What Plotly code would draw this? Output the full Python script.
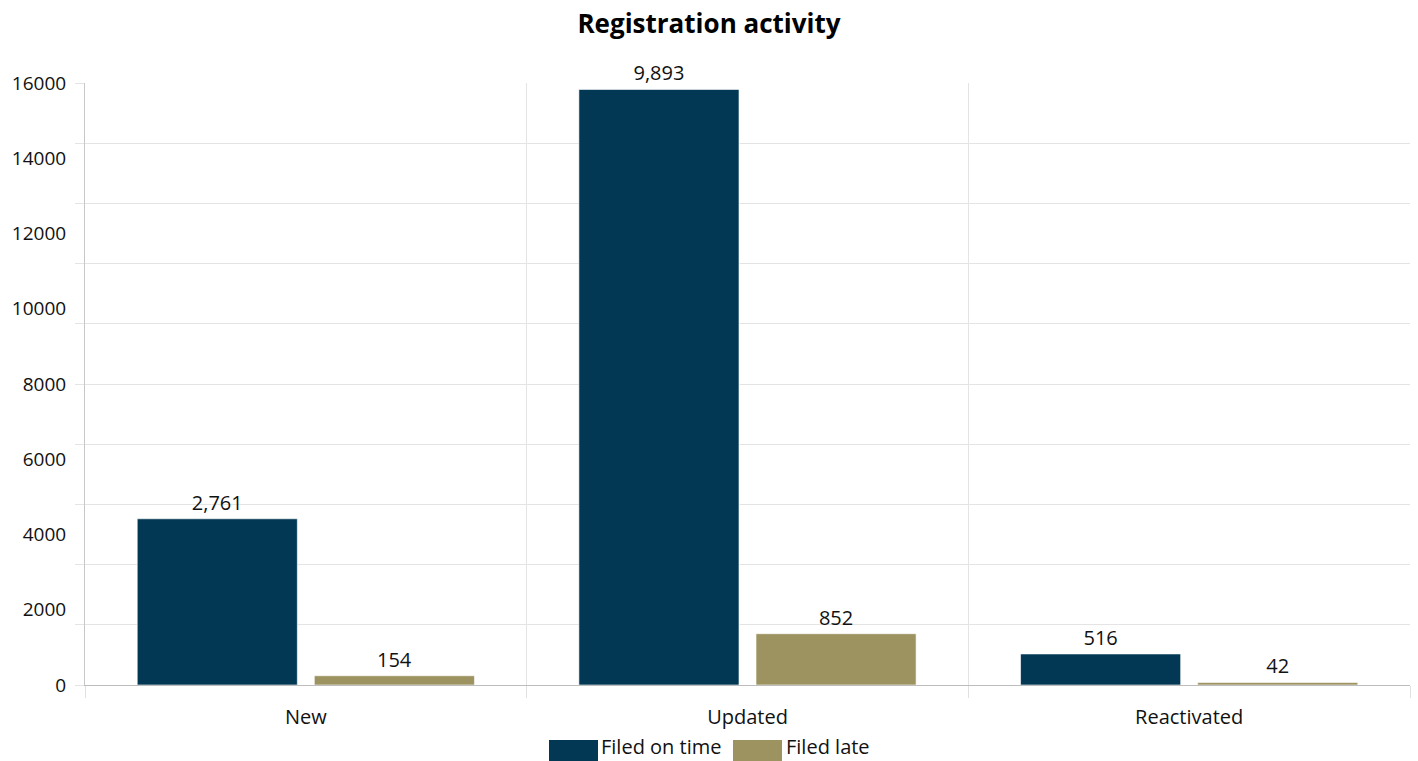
import plotly.graph_objects as go

categories = ["New", "Updated", "Reactivated"]
filed_on_time = [2761, 9893, 516]
filed_late = [154, 852, 42]
series_names = ["Filed on time", "Filed late"]
series_colors = ["#023854", "#9C9361"]
axis_tick_labels = [0, 2000, 4000, 6000, 8000, 10000, 12000, 14000, 16000]

FONT = "Open Sans"
fig = go.Figure()
for name, vals, col in zip(series_names, [filed_on_time, filed_late], series_colors):
    fig.add_trace(go.Bar(
        x=categories, y=vals, name=name,
        marker=dict(color=col, line=dict(color="rgba(255,255,255,0.6)", width=1)),
        texttemplate="%{y:,}", textposition="outside", cliponaxis=False,
        textfont=dict(family=FONT, size=20, color="#111"),
        showlegend=False,
    ))

fig.update_layout(
    width=1418, height=761,
    margin=dict(l=85, r=8, t=83, b=76),
    paper_bgcolor="white", plot_bgcolor="white",
    barmode="group", bargap=0.198, bargroupgap=0.096,
    title=dict(text="<b>Registration activity</b>", x=0.5, xanchor="center",
               y=1 - 24 / 761, yanchor="middle",
               font=dict(family=FONT, size=26, color="#000")),
    font=dict(family=FONT, size=19, color="#111"),
    xaxis=dict(
        type="category", tickson="boundaries", showgrid=True, gridcolor="#e4e4e4",
        showline=True, linecolor="#bdbdbd", linewidth=1,
        ticks="outside", ticklen=12, tickcolor="#e0e0e0",
        ticklabelstandoff=14,
        tickfont=dict(family=FONT, size=20, color="#111"),
    ),
    yaxis=dict(
        range=[0, 10000], dtick=1000, showgrid=True, gridcolor="#e4e4e4",
        showticklabels=False, showline=True, linecolor="#c8c8c8", linewidth=1,
        ticks="outside", ticklen=9, tickcolor="#e4e4e4", zeroline=False,
    ),
    yaxis2=dict(
        overlaying="y", side="left", range=[0, 16000],
        tickvals=axis_tick_labels, ticktext=[str(v) for v in axis_tick_labels],
        showgrid=False, zeroline=False, showline=False,
        ticks="outside", ticklen=14, tickcolor="rgba(0,0,0,0)",
        tickfont=dict(family=FONT, size=19, color="#111"),
    ),
)

# invisible trace so the second axis is drawn
fig.add_trace(go.Scatter(x=[categories[0]], y=[0], yaxis="y2", mode="markers",
                         marker=dict(opacity=0), showlegend=False, hoverinfo="skip"))

# custom legend (wide swatches, as in the reference)
def px_x(p):
    return (p - 85) / 1325
def px_y(p):
    return (685 - p) / 602

legend_items = [(549, 598, 600), (733, 782, 785)]
for (x0, x1, tx), name, col in zip(legend_items, series_names, series_colors):
    fig.add_shape(type="rect", xref="paper", yref="paper",
                  x0=px_x(x0), x1=px_x(x1), y0=px_y(740), y1=px_y(761),
                  fillcolor=col, line=dict(width=0))
    fig.add_annotation(text=name, xref="paper", yref="paper", x=px_x(tx), y=px_y(746),
                       xanchor="left", yanchor="middle", showarrow=False, borderpad=0,
                       font=dict(family=FONT, size=20, color="#111"))

fig.write_html("out.html")
